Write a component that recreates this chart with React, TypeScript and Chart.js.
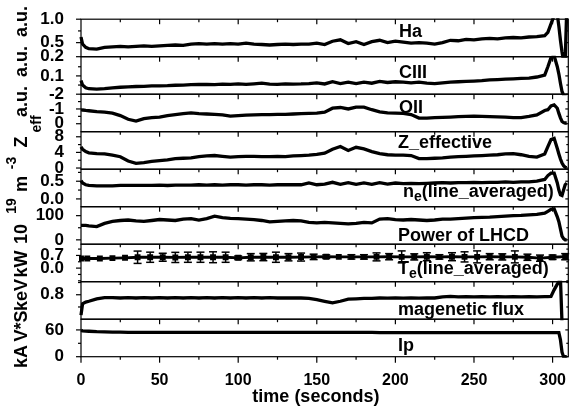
import React, { useEffect, useRef } from 'react';
import { Chart, registerables } from 'chart.js';

Chart.register(...registerables);

const FAMILY = '"Liberation Sans", Arial, sans-serif';

// ---------- data ----------
const time = [0, 1, 3, 5, 10, 15, 20, 25, 30, 35,
  40, 45, 50, 55, 60, 65, 70, 75, 80, 85,
  90, 95, 100, 105, 110, 115, 120, 125, 130, 135,
  140, 145, 150, 155, 160, 165, 170, 175, 180, 185,
  190, 195, 200, 205, 210, 215, 220, 225, 230, 235,
  240, 245, 250, 255, 260, 265, 270, 275, 280, 285,
  290, 295, 297, 299, 301, 303, 304, 305, 306, 307,
  308, 309];

const haValues = [0.62, 0.47, 0.40, 0.37, 0.36, 0.40, 0.41, 0.42, 0.41, 0.42,
  0.43, 0.42, 0.43, 0.44, 0.45, 0.44, 0.47, 0.48, 0.47, 0.48,
  0.47, 0.48, 0.47, 0.49, 0.47, 0.46, 0.45, 0.46, 0.47, 0.46,
  0.47, 0.47, 0.49, 0.46, 0.53, 0.56, 0.48, 0.52, 0.46, 0.52,
  0.55, 0.50, 0.53, 0.51, 0.49, 0.50, 0.49, 0.47, 0.50, 0.55,
  0.54, 0.57, 0.56, 0.58, 0.59, 0.58, 0.60, 0.61, 0.60, 0.62,
  0.63, 0.65, 0.72, 0.90, 1.08, 1.10, 0.85, 0.55, 0.30, 0.10,
  0.10, 1.20];

const ciiiValues = [0.075, 0.05, 0.035, 0.03, 0.028, 0.03, 0.035, 0.038, 0.04, 0.042,
  0.043, 0.045, 0.046, 0.047, 0.049, 0.05, 0.052, 0.053, 0.054, 0.052,
  0.055, 0.054, 0.056, 0.054, 0.057, 0.06, 0.055, 0.054, 0.056, 0.055,
  0.056, 0.058, 0.062, 0.056, 0.068, 0.058, 0.066, 0.058, 0.066, 0.06,
  0.07, 0.064, 0.068, 0.066, 0.062, 0.066, 0.06, 0.058, 0.062, 0.066,
  0.068, 0.07, 0.072, 0.074, 0.078, 0.08, 0.082, 0.084, 0.086, 0.088,
  0.094, 0.105, 0.15, 0.2, 0.21, 0.15, 0.11, 0.06, 0.015, -0.005,
  -0.01, -0.01];

const oiiValues = [-0.95, -0.93, -0.9, -0.88, -0.82, -0.78, -0.72, -0.55, -0.3, -0.18,
  -0.35, -0.42, -0.45, -0.55, -0.62, -0.68, -0.73, -0.68, -0.66, -0.64,
  -0.6, -0.51, -0.55, -0.58, -0.6, -0.62, -0.62, -0.63, -0.64, -0.66,
  -0.68, -0.7, -0.72, -0.78, -1.05, -1.1, -1.0, -1.12, -1.12, -0.95,
  -0.8, -0.73, -0.72, -0.7, -0.62, -0.38, -0.38, -0.42, -0.43, -0.45,
  -0.48, -0.5, -0.52, -0.5, -0.48, -0.47, -0.45, -0.42, -0.42, -0.5,
  -0.6, -0.9, -0.95, -1.2, -1.28, -1.05, -0.7, -0.4, -0.15, -0.08,
  -0.05, -0.05];

const zeffValues = [5.4, 4.8, 4.2, 3.9, 3.7, 3.6, 3.3, 2.9, 1.8, 1.2,
  1.4, 1.7, 1.9, 2.1, 2.4, 2.5, 2.6, 2.9, 3.1, 3.2,
  3.0, 2.8, 2.9, 3.0, 3.0, 2.9, 2.9, 3.0, 2.9, 3.1,
  3.2, 3.3, 3.5, 3.8, 4.8, 5.5, 4.5, 5.3, 4.9, 4.2,
  3.7, 3.4, 3.3, 3.3, 3.2, 2.4, 2.4, 2.5, 2.6, 2.8,
  2.9, 3.0, 3.1, 3.2, 3.3, 3.4, 3.6, 3.7, 3.4, 3.0,
  2.8, 3.6, 5.5, 7.3, 7.6, 5.0, 3.6, 2.3, 1.3, 0.6,
  0.2, 0.1];

const neValues = [0.52, 0.45, 0.40, 0.38, 0.37, 0.37, 0.37, 0.38, 0.38, 0.38,
  0.38, 0.38, 0.39, 0.38, 0.39, 0.39, 0.39, 0.40, 0.39, 0.40,
  0.39, 0.40, 0.40, 0.39, 0.40, 0.40, 0.39, 0.40, 0.40, 0.40,
  0.40, 0.45, 0.40, 0.42, 0.47, 0.41, 0.46, 0.41, 0.45, 0.41,
  0.46, 0.42, 0.45, 0.43, 0.44, 0.43, 0.44, 0.45, 0.46, 0.45,
  0.46, 0.46, 0.47, 0.46, 0.47, 0.47, 0.48, 0.47, 0.48, 0.48,
  0.50, 0.55, 0.66, 0.73, 0.73, 0.45, 0.25, 0.12, 0.10, 0.25,
  0.40, 0.45];

const lhcdValues = [60, 60, 60, 58, 55, 68, 76, 80, 82, 78,
  76, 80, 84, 82, 80, 86, 88, 82, 88, 98,
  92, 89, 88, 86, 84, 80, 74, 76, 78, 80,
  78, 72, 70, 72, 70, 68, 66, 68, 72, 70,
  86, 88, 84, 82, 84, 82, 80, 82, 86, 86,
  88, 90, 92, 93, 94, 96, 98, 100, 101, 103,
  105, 110, 118, 126, 128, 95, 75, 45, 15, 5,
  0, 0];

const fluxValues = [0.55, 0.69, 0.71, 0.72, 0.75, 0.765, 0.765, 0.76, 0.765, 0.76,
  0.765, 0.76, 0.765, 0.76, 0.765, 0.76, 0.765, 0.76, 0.765, 0.76,
  0.765, 0.76, 0.765, 0.76, 0.765, 0.76, 0.765, 0.76, 0.762, 0.76,
  0.76, 0.755, 0.74, 0.72, 0.70, 0.72, 0.745, 0.75, 0.755, 0.755,
  0.76, 0.758, 0.76, 0.758, 0.76, 0.758, 0.76, 0.76, 0.775, 0.78,
  0.775, 0.778, 0.775, 0.778, 0.775, 0.778, 0.775, 0.778, 0.775, 0.778,
  0.775, 0.778, 0.778, 0.78, 0.86, 0.93, 0.96, 1.0, 0.45, 0.4,
  0.4, 0.4];

const ipValues = [59, 58, 57.5, 57, 56, 55.5, 55, 55, 54.5, 54.5,
  54.5, 54.5, 54.5, 54.5, 54.5, 54.5, 54.5, 54.5, 54.5, 54.5,
  54.5, 54.5, 54.5, 54.5, 54.5, 54.5, 54.5, 54.5, 54.5, 54.5,
  54.5, 54.5, 54.5, 54.5, 54.5, 54.5, 54.5, 54.5, 54.5, 54.5,
  54, 54, 54, 54, 54, 54, 54, 54, 54, 54,
  54, 54, 54, 54, 54, 54, 54, 54, 54, 54,
  54, 54, 54, 54, 54, 54, 54, 38, 10, 0,
  0, 0];

const teTime = [0, 4, 12, 20, 28, 36, 44, 52, 60, 68,
  76, 84, 92, 100, 108, 116, 124, 132, 140, 148,
  156, 164, 172, 180, 188, 196, 204, 212, 220, 228,
  236, 244, 252, 260, 268, 276, 284, 292, 300, 308];
const teValues = [0.53, 0.53, 0.53, 0.55, 0.57, 0.60, 0.60, 0.60, 0.59, 0.60,
  0.60, 0.60, 0.60, 0.57, 0.60, 0.61, 0.60, 0.60, 0.61, 0.62,
  0.63, 0.62, 0.62, 0.62, 0.62, 0.63, 0.62, 0.62, 0.63, 0.62,
  0.63, 0.62, 0.62, 0.63, 0.62, 0.62, 0.60, 0.55, 0.60, 0.63];
const teErrors = [0, 0, 0, 0, 0, 0.34, 0.28, 0.22, 0.28, 0.28,
  0.28, 0.3, 0.28, 0.1, 0.2, 0.2, 0.28, 0.2, 0.22, 0.15,
  0.1, 0, 0.12, 0.12, 0.22, 0.17, 0.33, 0.17, 0.22, 0.12,
  0.22, 0.28, 0.33, 0.17, 0.17, 0.33, 0.17, 0.17, 0.12, 0.17];

// ---------- tick values / labels ----------
const xTicks = [0, 50, 100, 150, 200, 250, 300];
const xMinorTicks = [25, 75, 125, 175, 225, 275];

const haTicks = [1.0, 0.5, 0.2];
const haTickLabels = ['1.0', '0.5', '0.2'];
const ciiiTicks = [0.1];
const ciiiTickLabels = ['0.1'];
const oiiTicks = [-2, -1, 0];
const oiiTickLabels = ['-2', '-1', '0'];
const zeffTicks = [8, 4, 0];
const zeffTickLabels = ['8', '4', '0'];
const neTicks = [0.5, 0.0];
const neTickLabels = ['0.5', '0.0'];
const lhcdTicks = [100, 0];
const lhcdTickLabels = ['100', '0'];
const teTicks = [0.7, 0.0];
const teTickLabels = ['0.7', '0.0'];
const fluxTicks = [0.8];
const fluxTickLabels = ['0.8'];
const ipTicks = [60, 0];
const ipTickLabels = ['60', '0'];

type Seg = { text: string; size: number; dy?: number };

const panels = [
  { key: 'y0', xs: time, values: haValues, min: 0.2, max: 1.0, reverse: false, ticks: haTicks, tickLabels: haTickLabels, minor: [0.75], label: [{ text: 'Ha', size: 18 }] as Seg[], labelX: 399, labelDy: 12.5 },
  { key: 'y1', xs: time, values: ciiiValues, min: 0, max: 0.205, reverse: false, ticks: ciiiTicks, tickLabels: ciiiTickLabels, minor: [0.15, 0.05], label: [{ text: 'CIII', size: 18 }] as Seg[], labelX: 399, labelDy: 16.3 },
  { key: 'y2', xs: time, values: oiiValues, min: -2, max: 0.54, reverse: true, ticks: oiiTicks, tickLabels: oiiTickLabels, minor: [-1.5, -0.5], label: [{ text: 'OII', size: 18 }] as Seg[], labelX: 399, labelDy: 14 },
  { key: 'y3', xs: time, values: zeffValues, min: -0.3, max: 9.3, reverse: false, ticks: zeffTicks, tickLabels: zeffTickLabels, minor: [6, 2], label: [{ text: 'Z_effective', size: 18 }] as Seg[], labelX: 398, labelDy: 11.3 },
  { key: 'y4', xs: time, values: neValues, min: -0.22, max: 0.84, reverse: false, ticks: neTicks, tickLabels: neTickLabels, minor: [0.75, 0.25], label: [{ text: 'n', size: 18 }, { text: 'e', size: 14, dy: 5 }, { text: '(line_averaged)', size: 18 }] as Seg[], labelX: 403, labelDy: 23.3 },
  { key: 'y5', xs: time, values: lhcdValues, min: -18, max: 137, reverse: false, ticks: lhcdTicks, tickLabels: lhcdTickLabels, minor: [50], label: [{ text: 'Power of LHCD', size: 18 }] as Seg[], labelX: 398, labelDy: 29.5 },
  { key: 'y6', xs: teTime, values: teValues, min: -0.75, max: 1.32, reverse: false, ticks: teTicks, tickLabels: teTickLabels, minor: [1.05, 0.35, -0.35, -0.7], label: [{ text: 'T', size: 18 }, { text: 'e', size: 14, dy: 5 }, { text: '(line_averaged)', size: 18 }] as Seg[], labelX: 398, labelDy: 25.3 },
  { key: 'y7', xs: time, values: fluxValues, min: 0.5, max: 0.96, reverse: false, ticks: fluxTicks, tickLabels: fluxTickLabels, minor: [0.95, 0.65], label: [{ text: 'magenetic flux', size: 18 }] as Seg[], labelX: 398, labelDy: 28.7 },
  { key: 'y8', xs: time, values: ipValues, min: 0, max: 84, reverse: false, ticks: ipTicks, tickLabels: ipTickLabels, minor: [30], label: [{ text: 'Ip', size: 18 }] as Seg[], labelX: 398, labelDy: 26.5 },
];

// rotated y-title pieces (text, centre y, centre x, size)
const yTitleParts = [
  { text: 'kA', y: 356.5, x: 22.5, size: 18 },
  { text: 'V*S', y: 326, x: 22.5, size: 18 },
  { text: 'keV', y: 295, x: 22.5, size: 18 },
  { text: 'kW', y: 264, x: 22.5, size: 18 },
  { text: '10', y: 234, x: 22.5, size: 18 },
  { text: '19', y: 206, x: 12, size: 14 },
  { text: 'm', y: 184, x: 22.5, size: 18 },
  { text: '-3', y: 163, x: 12, size: 14 },
  { text: 'Z', y: 142, x: 22.5, size: 18 },
  { text: 'eff', y: 124, x: 37, size: 14 },
  { text: 'a.u.', y: 101.5, x: 22.5, size: 18 },
  { text: 'a.u.', y: 61.5, x: 22.5, size: 18 },
  { text: 'a.u.', y: 21.5, x: 22.5, size: 18 },
];

const clipPlugin = {
  id: 'panelClip',
  beforeDatasetDraw(chart: any, args: any) {
    const s = chart.scales[args.meta.yAxisID];
    const a = chart.chartArea;
    const ctx = chart.ctx;
    ctx.save();
    ctx.beginPath();
    ctx.rect(a.left - 2, s.top - 1, a.right - a.left + 4, s.bottom - s.top + 2);
    ctx.clip();
  },
  afterDatasetDraw(chart: any) {
    chart.ctx.restore();
  },
};

function line(ctx: CanvasRenderingContext2D, x1: number, y1: number, x2: number, y2: number) {
  ctx.beginPath();
  ctx.moveTo(x1, y1);
  ctx.lineTo(x2, y2);
  ctx.stroke();
}

const decorPlugin = {
  id: 'decor',
  afterDatasetsDraw(chart: any) {
    const ctx: CanvasRenderingContext2D = chart.ctx;
    const a = chart.chartArea;
    const xs = chart.scales.x;
    ctx.save();
    ctx.strokeStyle = '#000';
    ctx.fillStyle = '#000';

    // error bars on Te
    const ts = chart.scales.y6;
    ctx.lineWidth = 1.5;
    teTime.forEach((t, j) => {
      const e = teErrors[j];
      if (!e) return;
      const px = xs.getPixelForValue(t);
      const y1 = ts.getPixelForValue(teValues[j] + e);
      const y2 = ts.getPixelForValue(teValues[j] - e);
      line(ctx, px, y1, px, y2);
      line(ctx, px - 4, y1, px + 4, y1);
      line(ctx, px - 4, y2, px + 4, y2);
    });

    // frames and ticks
    ctx.lineWidth = 1.2;
    panels.forEach((p) => {
      const s = chart.scales[p.key];
      ctx.strokeRect(a.left, s.top, a.right - a.left, s.bottom - s.top);
      xTicks.forEach((v) => {
        if (v === 0) return;
        const px = xs.getPixelForValue(v);
        line(ctx, px, s.top, px, s.top + 5);
      });
      xMinorTicks.forEach((v) => {
        const px = xs.getPixelForValue(v);
        line(ctx, px, s.top, px, s.top + 3);
      });
      p.ticks.forEach((v) => {
        const py = s.getPixelForValue(v);
        line(ctx, a.left - 5, py, a.left, py);
        line(ctx, a.right - 3, py, a.right, py);
      });
      p.minor.forEach((v) => {
        const py = s.getPixelForValue(v);
        line(ctx, a.left - 3, py, a.left, py);
        line(ctx, a.right - 2, py, a.right, py);
      });
    });
    xTicks.forEach((v) => {
      const px = xs.getPixelForValue(v);
      line(ctx, px, a.bottom, px, a.bottom + 6);
    });
    xMinorTicks.forEach((v) => {
      const px = xs.getPixelForValue(v);
      line(ctx, px, a.bottom, px, a.bottom + 3);
    });

    // panel labels
    ctx.textBaseline = 'middle';
    ctx.textAlign = 'left';
    panels.forEach((p) => {
      const s = chart.scales[p.key];
      let cx = p.labelX;
      const cy = s.top + p.labelDy;
      p.label.forEach((seg) => {
        ctx.font = `bold ${seg.size}px ${FAMILY}`;
        ctx.fillText(seg.text, cx, cy + (seg.dy || 0));
        cx += ctx.measureText(seg.text).width;
      });
    });

    // y title (rotated)
    ctx.textAlign = 'center';
    yTitleParts.forEach((part) => {
      ctx.save();
      ctx.translate(part.x, part.y);
      ctx.rotate(-Math.PI / 2);
      ctx.font = `bold ${part.size}px ${FAMILY}`;
      ctx.fillText(part.text, 0, 0);
      ctx.restore();
    });

    // x title
    ctx.font = `bold 18px ${FAMILY}`;
    ctx.fillText('time (seconds)', a.left + (a.right - a.left) * 0.482, a.bottom + 40.5);
    ctx.restore();
  },
};

export default function App() {
  const ref = useRef<HTMLCanvasElement>(null);

  useEffect(() => {
    document.body.style.margin = '0';
    const canvas = ref.current;
    if (!canvas) return;

    const scales: any = {
      x: {
        type: 'linear',
        min: 0,
        max: 310,
        afterBuildTicks: (s: any) => {
          s.ticks = xTicks.map((v) => ({ value: v }));
        },
        afterFit: (s: any) => {
          s.height = 54.3;
        },
        ticks: {
          autoSkip: false,
          maxRotation: 0,
          padding: 6,
          color: '#000',
          font: { family: FAMILY, size: 16, weight: 'bold' },
          callback: (v: any) => String(v),
        },
        grid: { display: false },
        border: { display: false },
      },
    };

    panels.forEach((p, i) => {
      scales[p.key] = {
        type: 'linear',
        position: 'left',
        stack: 'panels',
        stackWeight: 1,
        weight: 9 - i,
        min: p.min,
        max: p.max,
        reverse: p.reverse,
        afterFit: (s: any) => {
          s.width = 81;
        },
        afterBuildTicks: (s: any) => {
          s.ticks = p.ticks.map((v) => ({ value: v }));
        },
        ticks: {
          autoSkip: false,
          padding: 9,
          color: '#000',
          font: { family: FAMILY, size: 17, weight: 'bold' },
          callback: (_v: any, idx: number) => p.tickLabels[idx],
        },
        grid: { display: false },
        border: { display: false },
      };
    });

    const datasets = panels.map((p) => ({
      data: p.xs.map((t, j) => ({ x: t, y: p.values[j] })),
      yAxisID: p.key,
      borderColor: '#000',
      backgroundColor: '#000',
      borderWidth: p.key === 'y6' ? 2.8 : 3.3,
      pointRadius: p.key === 'y6' ? 2.2 : 0,
      pointStyle: 'rect',
      tension: 0,
      fill: false,
      clip: 2,
    }));

    const chart = new Chart(canvas, {
      type: 'line',
      data: { datasets } as any,
      options: {
        animation: false,
        responsive: false,
        maintainAspectRatio: false,
        devicePixelRatio: 1,
        layout: { padding: { left: 0, top: 12.7, right: 12.7, bottom: 0 } },
        plugins: { legend: { display: false }, tooltip: { enabled: false } },
        scales,
      } as any,
      plugins: [clipPlugin, decorPlugin],
    });

    return () => chart.destroy();
  }, []);

  return (
    <div style={{ width: 581, height: 411, background: '#fff' }}>
      <canvas ref={ref} width={581} height={411} style={{ display: 'block' }} />
    </div>
  );
}
